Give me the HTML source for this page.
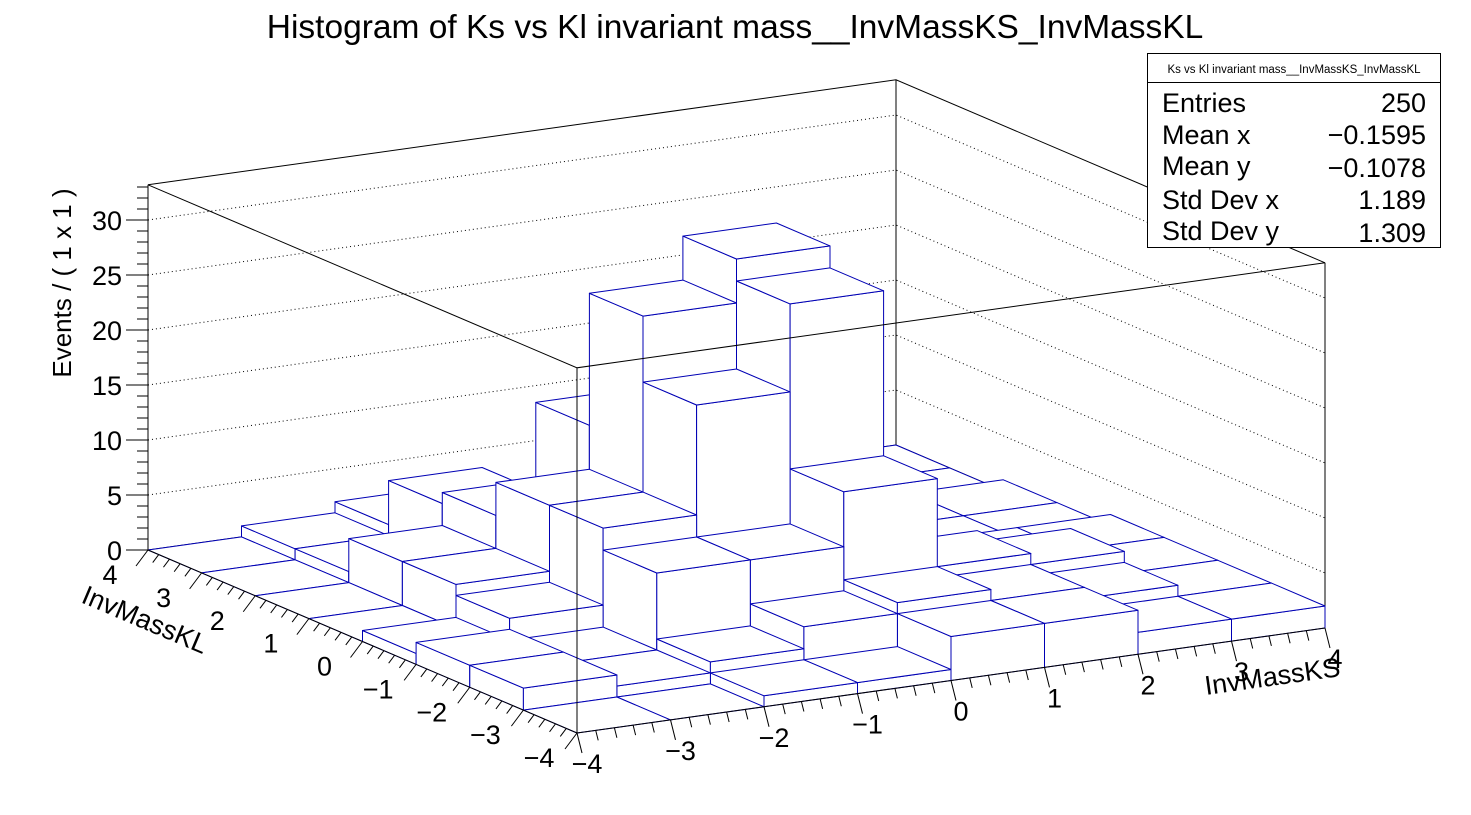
<!DOCTYPE html>
<html><head><meta charset="utf-8"><style>
body{margin:0;background:#fff;}
svg{display:block;font-family:"Liberation Sans",Arial,sans-serif;}
</style></head><body>
<svg id="chart" width="1471" height="815" viewBox="0 0 1471 815" xmlns="http://www.w3.org/2000/svg">
<rect width="1471" height="815" fill="#fff"/>
<text x="735" y="38" font-size="33.5" text-anchor="middle">Histogram of Ks vs Kl invariant mass__InvMassKS_InvMassKL</text>
<g id="walls"></g>
<g id="bars"></g>
<g id="frame"></g>
<g id="axes"></g>
<text transform="translate(71,283) rotate(-90)" font-size="26" text-anchor="middle">Events / ( 1 x 1 )</text>
<text transform="translate(80,602) rotate(23)" font-size="27">InvMassKL</text>
<text transform="translate(1206,695) rotate(-8)" font-size="27">InvMassKS</text>
<g>
<rect x="1147.5" y="53.5" width="293" height="194" fill="#fff" stroke="#000" stroke-width="1"/>
<line x1="1147.5" y1="82.5" x2="1440.5" y2="82.5" stroke="#000"/>
<text x="1294" y="73" font-size="11.5" text-anchor="middle">Ks vs Kl invariant mass__InvMassKS_InvMassKL</text>
<g font-size="27">
<text x="1162" y="112">Entries</text><text x="1426" y="112" text-anchor="end">250</text>
<text x="1162" y="144">Mean x</text><text x="1426" y="144" text-anchor="end">−0.1595</text>
<text x="1162" y="175">Mean y</text><text x="1426" y="177" text-anchor="end">−0.1078</text>
<text x="1162" y="209">Std Dev x</text><text x="1426" y="209" text-anchor="end">1.189</text>
<text x="1162" y="240">Std Dev y</text><text x="1426" y="242" text-anchor="end">1.309</text>
</g></g>
</svg>
<script>
// bin edges x,y = -4..4 ; counts[iy][ix] with iy for y=-4..3, ix for x=-4..3
const xEdges=[-4,-3,-2,-1,0,1,2,3,4];
const yEdges=[-4,-3,-2,-1,0,1,2,3,4];
const counts=[
 [0,0,1,1,4,4,2,2],
 [2,1,2,4,5,4,3,2],
 [2,1,8,8,13,5,4,2],
 [1,3,10,20,28,3,2,2],
 [0,4,10,26,30,3,1,1],
 [0,4,7,14,5,2,1,1],
 [0,1,6,3,2,1,0,0],
 [0,1,2,1,1,0,0,0]
];
const zTicks=[0,5,10,15,20,25,30];
const xTickLabels=["−4","−3","−2","−1","0","1","2","3","4"];
const yTickLabels=["−4","−3","−2","−1","0","1","2","3","4"];
const zMax=33.2;
const NS="http://www.w3.org/2000/svg";
function P(x,y,z){const a=x+4,b=y+4;return [577+93.5*a-53.625*b, 733-13.125*a-22.875*b-11.0*z];}
function mk(tag,attrs,parent){const e=document.createElementNS(NS,tag);for(const k in attrs)e.setAttribute(k,attrs[k]);parent.appendChild(e);return e;}
function pts(a){return a.map(p=>p[0].toFixed(1)+","+p[1].toFixed(1)).join(" ");}
const walls=document.getElementById('walls'),bars=document.getElementById('bars'),frame=document.getElementById('frame'),axes=document.getElementById('axes');
zTicks.forEach(z=>{if(z===0)return;const a=P(-4,4,z),b=P(4,4,z),c=P(4,-4,z);
 const l=mk('polyline',{points:pts([a,b,c]),fill:'none',stroke:'#000','stroke-width':1,'stroke-dasharray':'1,3'},walls);
 
 });
[[P(-4,4,0),P(-4,4,zMax)],[P(4,4,0),P(4,4,zMax)],[P(4,-4,0),P(4,-4,zMax)],[P(-4,4,0),P(4,4,0),P(4,-4,0)],[P(-4,4,zMax),P(4,4,zMax),P(4,-4,zMax)]].forEach(s=>{
 const l=mk('polyline',{points:pts(s),fill:'none',stroke:'#000','stroke-width':1},walls);
 
 });
const order=[];for(let j=0;j<8;j++)for(let i=0;i<8;i++)order.push([i,j]);
order.sort((p,q)=>(q[0]+q[1])-(p[0]+p[1]));
order.forEach(([i,j])=>{const h=counts[j][i];const x0=xEdges[i],x1=xEdges[i+1],y0=yEdges[j],y1=yEdges[j+1];
 const g=mk('g',{},bars);
 
 
 const st={fill:'#fff',stroke:'#0000b4','stroke-width':1,'stroke-linejoin':'round'};
 if(h>0){
  mk('polygon',Object.assign({points:pts([P(x0,y0,0),P(x0,y1,0),P(x0,y1,h),P(x0,y0,h)])},st),g);
  mk('polygon',Object.assign({points:pts([P(x0,y0,0),P(x1,y0,0),P(x1,y0,h),P(x0,y0,h)])},st),g);
 }
 mk('polygon',Object.assign({points:pts([P(x0,y0,h),P(x1,y0,h),P(x1,y1,h),P(x0,y1,h)])},st),g);
});
[[P(-4,4,zMax),P(-4,-4,zMax),P(4,-4,zMax)],[P(-4,-4,0),P(-4,-4,zMax)],[P(-4,4,0),P(-4,-4,0),P(4,-4,0)]].forEach(s=>{
 const l=mk('polyline',{points:pts(s),fill:'none',stroke:'#000','stroke-width':1},frame);
 
 });
for(let z=0;z<=33;z++){const p=P(-4,4,z);const len=z%5===0?22:11;
 const t=mk('line',{x1:p[0],y1:p[1],x2:p[0]-len,y2:p[1],stroke:'#000','stroke-width':1},axes);
 
 }
zTicks.forEach(z=>{const p=P(-4,4,z);const t=mk('text',{x:p[0]-26,y:p[1]+10,'font-size':27,'text-anchor':'end'},axes);t.textContent=String(z);
 
 });
for(let k=0;k<=40;k++){const x=-4+k*0.2;const p=P(x,-4,0);const len=k%5===0?20:10;
 const t=mk('line',{x1:p[0],y1:p[1],x2:p[0]+len*0.25,y2:p[1]+len,stroke:'#000','stroke-width':1},axes);
 
 }
xTickLabels.forEach((s,k)=>{const p=P(xEdges[k],-4,0);const t=mk('text',{x:p[0]+10,y:p[1]+40,'font-size':27,'text-anchor':'middle'},axes);t.textContent=s;
 
 });
for(let k=0;k<=40;k++){const y=-4+k*0.2;const p=P(-4,y,0);const len=k%5===0?20:10;
 const t=mk('line',{x1:p[0],y1:p[1],x2:p[0]-len*0.6,y2:p[1]+len*0.8,stroke:'#000','stroke-width':1},axes);
 
 }
yTickLabels.forEach((s,k)=>{const p=P(-4,yEdges[k],0);const t=mk('text',{x:p[0]-38,y:p[1]+34,'font-size':27,'text-anchor':'middle'},axes);t.textContent=s;
 
 });
</script>
</body></html>
